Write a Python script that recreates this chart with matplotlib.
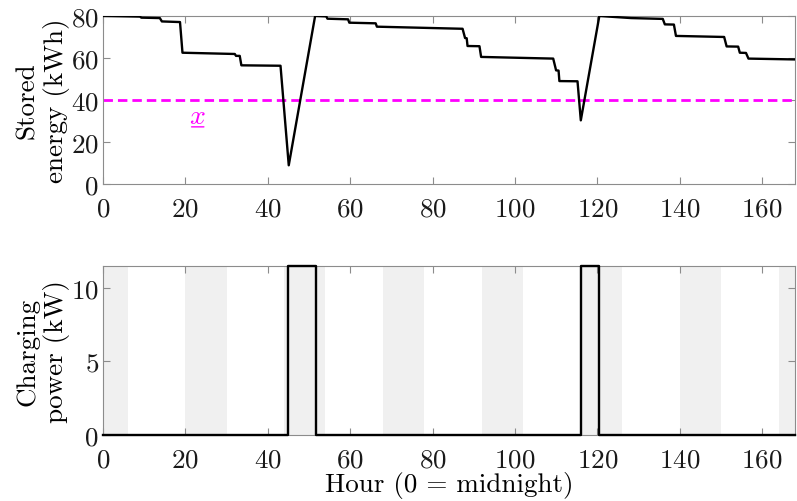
import matplotlib
matplotlib.use('Agg')
import matplotlib.pyplot as plt
import numpy as np

plt.rcParams['font.family'] = 'serif'
plt.rcParams['font.serif'] = ['cmr10']
plt.rcParams['mathtext.fontset'] = 'cm'
plt.rcParams['axes.formatter.use_mathtext'] = True
plt.rcParams['font.size'] = 19.5

# Stored energy (kWh) against hour
hours = [0, 9, 9.3, 13.8, 14.3, 18.7, 19.3, 32.0, 32.3, 33.2, 33.6, 43.1, 45.1, 51.5,
         54.2, 54.5, 59.5, 59.8, 66.2, 66.5, 87.3, 87.9, 88.3, 88.5, 91.4, 91.8,
         109.3, 110.0, 110.6, 110.8, 115.2, 116.0, 120.5, 128.2, 135.9, 136.4,
         138.6, 139.1, 150.8, 151.4, 154.2, 154.6, 156.1, 156.7, 168]
energy = [80, 79.7, 79.2, 79.0, 77.4, 77.1, 62.5, 61.9, 61.0, 61.0, 56.5, 56.3, 8.9, 80,
          79.8, 78.7, 78.4, 76.8, 76.5, 74.9, 73.9, 69.5, 69.4, 65.7, 65.6, 60.5,
          59.7, 54.1, 54.0, 49.0, 48.9, 30.3, 80, 79.0, 78.6, 76.0,
          75.9, 70.5, 70.0, 65.5, 65.4, 62.5, 62.4, 59.7, 59.3]
threshold = 40

# Charging sessions
charge_start = [44.9, 116.0]
charge_end = [51.7, 120.5]
charge_power = 11.5

# Night periods (20:00 to 06:00)
night_start = [-4, 20, 44, 68, 92, 116, 140, 164]
night_length = 10

t_power = [0]
p_power = [0]
for s, e in zip(charge_start, charge_end):
    t_power += [s, s, e, e]
    p_power += [0, charge_power, charge_power, 0]
t_power.append(168)
p_power.append(0)

fig = plt.figure(figsize=(7.97, 5.02), dpi=100)
ax1 = fig.add_axes([0.1292, 0.6315, 0.8683, 0.3347])
ax2 = fig.add_axes([0.1292, 0.1315, 0.8683, 0.3367])

spine_col = '#8c8c8c'
for ax in (ax1, ax2):
    for sp in ax.spines.values():
        sp.set_color(spine_col)
        sp.set_linewidth(0.8)
    ax.tick_params(direction='in', length=5, width=0.8, color=spine_col,
                   top=True, right=True, labelcolor='#1a1a1a')
    ax.tick_params(axis='x', pad=9)
    ax.tick_params(axis='y', pad=3)
    ax.set_xlim(0, 168)
    ax.set_xticks(np.arange(0, 161, 20))

ax1.plot(hours, energy, '-', color='black', lw=1.7, zorder=3)
ax1.axhline(threshold, color='#ff00ff', ls='--', lw=2, dashes=(3.4, 1.8), zorder=2)

# underlined x label
lab_x, lab_y = 23, 32.5
ax1.text(lab_x, lab_y, r'$x$', color='#ff00ff', ha='center', va='center', fontsize=20)
ax1.annotate('', xy=(lab_x + 1.5, lab_y - 5.3), xytext=(lab_x - 1.5, lab_y - 5.3),
             arrowprops=dict(arrowstyle='-', color='#ff00ff', lw=1.0,
                             shrinkA=0, shrinkB=0))

ax1.set_ylim(0, 80)
ax1.set_yticks([0, 20, 40, 60, 80])
ax1.set_ylabel('Stored\nenergy (kWh)', linespacing=1.2)
ax1.yaxis.set_label_coords(-0.047, 0.5)

for s in night_start:
    ax2.axvspan(s, s + night_length, color='#f0f0f0', lw=0, zorder=0)
ax2.plot(t_power, p_power, '-', color='black', lw=1.7, zorder=3, clip_on=False)
ax2.set_ylim(0, charge_power)
ax2.set_yticks([0, 5, 10])
ax2.set_ylabel('Charging\npower (kW)', linespacing=1.2)
ax2.yaxis.set_label_coords(-0.047, 0.5)
ax2.set_xlabel('Hour (0 = midnight)', labelpad=0)

fig.savefig('out.png', dpi=100)
